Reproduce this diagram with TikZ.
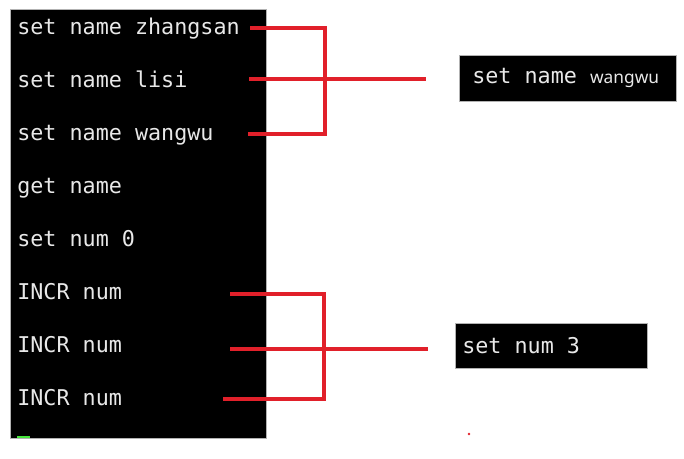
\documentclass[tikz,border=0pt]{standalone}
\usepackage{fontspec}
\setmonofont{DejaVu Sans Mono}
\newfontfamily\boxsans{Noto Sans}
\newcommand{\termfont}{\fontsize{16.3pt}{18pt}\selectfont\ttfamily}
\definecolor{cmdred}{RGB}{225,32,42}
\definecolor{termwhite}{RGB}{232,232,232}
\definecolor{cursorgreen}{RGB}{70,230,60}
\begin{document}
\begin{tikzpicture}[x=0.75pt,y=-0.75pt]
              \tikzstyle{cmd}=[anchor=base west,inner sep=0pt,text=termwhite,font=\termfont];
              \tikzstyle{redline}=[draw=cmdred,line width=2.3pt];
              \tikzstyle{result}=[fill=black,draw=gray!60,line width=0.4pt,anchor=west,inner ysep=0pt,text=termwhite,font=\termfont];
                \useasboundingbox (0,0) rectangle (684,458);
                \path[fill=black,draw=gray!60,line width=0.4pt] (10,9) rectangle (266,438);
                \path[fill=cursorgreen] (17,435.5) rectangle (30,438);

                \node[cmd] (c1) at (17,34)  {set name zhangsan};
                \node[cmd] (c2) at (17,87)  {set name lisi};
                \node[cmd] (c3) at (17,140) {set name wangwu};
                \node[cmd] (c4) at (17,193) {get name};
                \node[cmd] (c5) at (17,246) {set num 0};
                \node[cmd] (c6) at (17,299) {INCR num};
                \node[cmd] (c7) at (17,352) {INCR num};
                \node[cmd] (c8) at (17,405) {INCR num};

                \node[result,inner xsep=9.75pt,minimum height=34.5pt] (r1) at (459,78)
                    {\makebox[143.25pt][l]{set name {\boxsans\fontsize{13pt}{15pt}\selectfont wangwu}}};
                \node[result,inner xsep=5.25pt,minimum height=33.75pt] (r2) at (455,345.5)
                    {\makebox[133.5pt][l]{set num 3}};

                \coordinate (a1) at (250,28);
                \coordinate (a2) at (249,79);
                \coordinate (a3) at (248,134);
                \coordinate (t1) at (325,28);
                \coordinate (t3) at (325,134);
                \coordinate (e1) at (426,79);
                \coordinate (b1) at (230,294);
                \coordinate (b2) at (230,349);
                \coordinate (b3) at (223,399);
                \coordinate (s1) at (324,294);
                \coordinate (s3) at (324,399);
                \coordinate (e2) at (428,349);

                \path[redline] (a1) -- (t1) -- (t3) -- (a3);
                \path[redline] (a2) -- (e1);
                \path[redline] (b1) -- (s1) -- (s3) -- (b3);
                \path[redline] (b2) -- (e2);
                \path[fill=cmdred] (469,434) circle (1.3);
            \end{tikzpicture}
\end{document}
